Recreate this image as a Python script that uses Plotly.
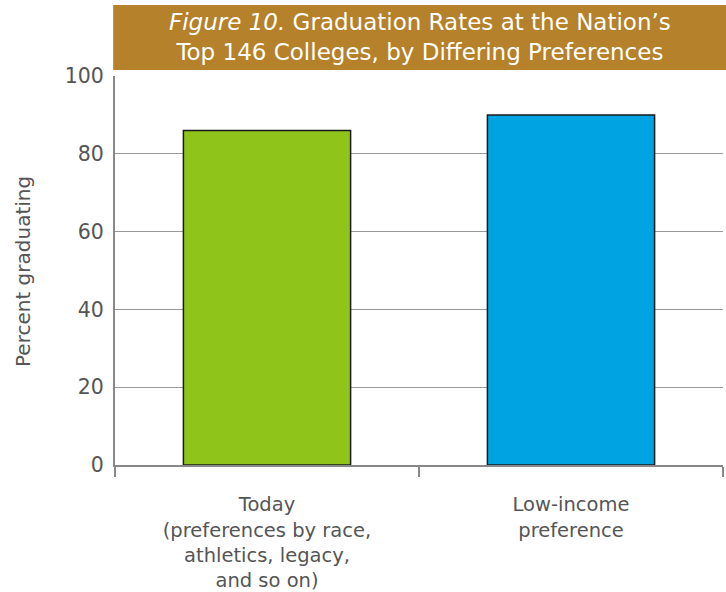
import plotly.graph_objects as go

categories = ["Today<br>(preferences by race,<br>athletics, legacy,<br>and so on)",
              "Low-income<br>preference"]
values = [86, 90]
colors = ["#8FC41A", "#00A3E1"]
y_ticks = [0, 20, 40, 60, 80, 100]

FONT = "DejaVu Sans"
GRAY = "#555555"

fig = go.Figure(go.Bar(
    x=categories, y=values, width=0.55,
    marker=dict(color=colors, line=dict(color="#1a1a1a", width=1.5)),
    hoverinfo="skip",
))

fig.update_layout(
    width=726, height=592,
    margin=dict(l=115, r=3, t=76, b=127, autoexpand=False),
    paper_bgcolor="white", plot_bgcolor="white",
    showlegend=False,
    font=dict(family=FONT, color=GRAY),
    shapes=[dict(type="rect", xref="paper", yref="paper",
                 x0=-0.003, x1=1.01, y0=(465-70)/389, y1=(465-5)/389,
                 fillcolor="#B5812A", line=dict(width=0), layer="below")],
    annotations=[
        dict(xref="paper", yref="paper", x=(420-115)/608, y=(465-37.5)/389,
             xanchor="center", yanchor="middle", showarrow=False,
             text="<i>Figure 10.</i> Graduation Rates at the Nation’s<br>Top 146 Colleges, by Differing Preferences",
             font=dict(family=FONT, size=23, color="white"), align="center"),
        dict(xref="paper", yref="paper", x=(23-115)/608, y=(465-272)/389,
             xanchor="center", yanchor="middle", showarrow=False, textangle=-90,
             text="Percent graduating",
             font=dict(family=FONT, size=20, color=GRAY)),
    ],
)

fig.update_xaxes(
    type="category", tickson="boundaries", ticks="outside", ticklen=10,
    tickcolor="#888888", tickwidth=2,
    showline=True, linecolor="#888888", linewidth=2,
    showgrid=False, automargin=False,
    tickfont=dict(family=FONT, size=19.5, color=GRAY),
    ticklabelstandoff=21,
)
fig.update_yaxes(
    range=[0, 100], tickvals=y_ticks,
    showgrid=True, gridcolor="#999999", gridwidth=1,
    showline=True, linecolor="#888888", linewidth=2,
    zeroline=False, automargin=False,
    tickfont=dict(family=FONT, size=20.5, color=GRAY),
    ticklabelstandoff=5,
)

fig.write_html("out.html", config={"displayModeBar": False},
               post_script="document.body.style.margin='0';")
